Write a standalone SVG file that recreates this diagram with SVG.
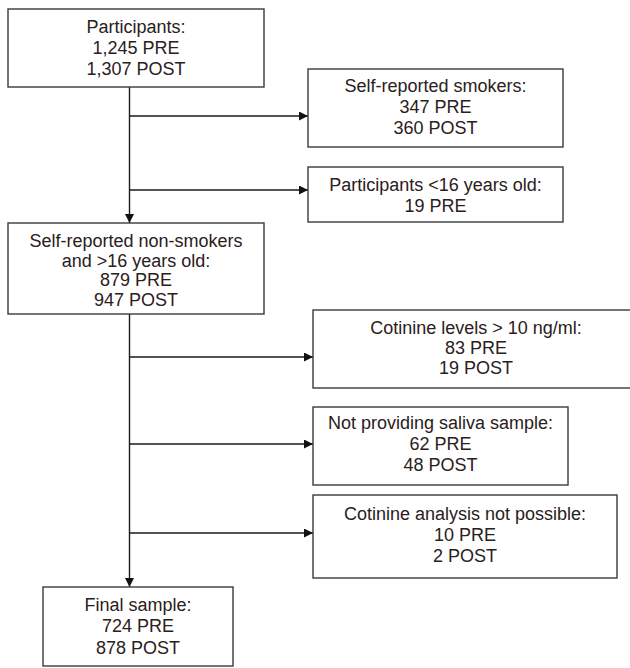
<svg xmlns="http://www.w3.org/2000/svg" width="630" height="668" viewBox="0 0 630 668">
<style>
  .box { fill: #ffffff; stroke: #3a3a3a; stroke-width: 1.4; }
  .t { font-family: "Liberation Sans", Arial, sans-serif; font-size: 18px; fill: #2a2020; text-anchor: middle; }
  .c { fill: none; stroke: #1a1a1a; stroke-width: 1.4; marker-end: url(#ah); }
</style>
<defs>
  <marker id="ah" markerUnits="userSpaceOnUse" markerWidth="10" markerHeight="10" refX="9" refY="4.5" orient="auto">
    <path d="M0,0 L9,4.5 L0,9 Z" fill="#111"/>
  </marker>
</defs>
<rect width="630" height="668" fill="#ffffff"/>
<g id="connectors">
  <path class="c" d="M129.5,87 L129.5,223"/>
  <path class="c" d="M129.5,116 L308,116"/>
  <path class="c" d="M129.5,190 L308,190"/>
  <path class="c" d="M129.5,314 L129.5,587"/>
  <path class="c" d="M129.5,357 L313,357"/>
  <path class="c" d="M129.5,444 L313,444"/>
  <path class="c" d="M129.5,533 L313,533"/>
</g>
<g id="participants">
  <rect class="box" x="8" y="9" width="256" height="78"/>
  <text class="t" x="136" y="33">Participants:</text>
  <text class="t" x="136" y="54">1,245 PRE</text>
  <text class="t" x="136" y="75">1,307 POST</text>
</g>
<g id="smokers">
  <rect class="box" x="308" y="69" width="255" height="78"/>
  <text class="t" x="435.5" y="92">Self-reported smokers:</text>
  <text class="t" x="435.5" y="113">347 PRE</text>
  <text class="t" x="435.5" y="134">360 POST</text>
</g>
<g id="under16">
  <rect class="box" x="308" y="167" width="255" height="55"/>
  <text class="t" x="435.5" y="191">Participants &lt;16 years old:</text>
  <text class="t" x="435.5" y="212">19 PRE</text>
</g>
<g id="nonsmokers">
  <rect class="box" x="8" y="223" width="256" height="91"/>
  <text class="t" x="136" y="247">Self-reported non-smokers</text>
  <text class="t" x="136" y="267">and &gt;16 years old:</text>
  <text class="t" x="136" y="286">879 PRE</text>
  <text class="t" x="136" y="306">947 POST</text>
</g>
<g id="cotinine">
  <rect class="box" x="313" y="310" width="327" height="78"/>
  <text class="t" x="476" y="334">Cotinine levels &gt; 10 ng/ml:</text>
  <text class="t" x="476" y="354">83 PRE</text>
  <text class="t" x="476" y="374">19 POST</text>
</g>
<g id="saliva">
  <rect class="box" x="313" y="407" width="255" height="78"/>
  <text class="t" x="440.5" y="429">Not providing saliva sample:</text>
  <text class="t" x="440.5" y="450">62 PRE</text>
  <text class="t" x="440.5" y="471">48 POST</text>
</g>
<g id="analysis">
  <rect class="box" x="313" y="495" width="304" height="83"/>
  <text class="t" x="465" y="520">Cotinine analysis not possible:</text>
  <text class="t" x="465" y="541">10 PRE</text>
  <text class="t" x="465" y="562">2 POST</text>
</g>
<g id="final">
  <rect class="box" x="43" y="587" width="190" height="79"/>
  <text class="t" x="138" y="611">Final sample:</text>
  <text class="t" x="138" y="632">724 PRE</text>
  <text class="t" x="138" y="654">878 POST</text>
</g>
</svg>
